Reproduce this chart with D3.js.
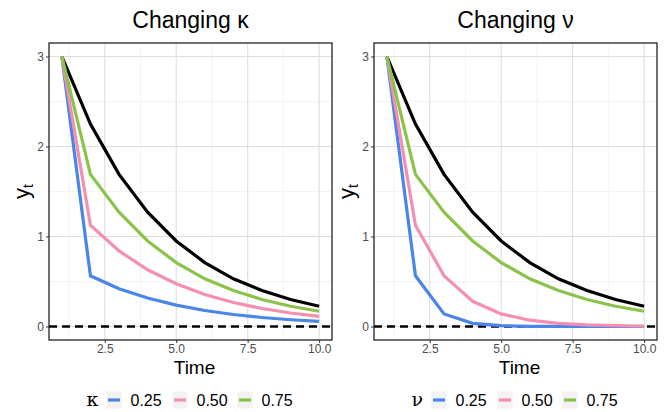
<!DOCTYPE html>
<html>
<head>
<meta charset="utf-8">
<script src="https://cdn.jsdelivr.net/npm/d3@7"></script>
<style>
  body { margin: 0; background: #fff; }
  svg { font-family: "Liberation Sans", Arial, sans-serif; }
</style>
</head>
<body>
<div id="chart"></div>
<script>
// time steps
const times = [1, 2, 3, 4, 5, 6, 7, 8, 9, 10];

// reference series (black), same in both panels
const baseline = [3, 2.25, 1.69, 1.27, 0.95, 0.71, 0.53, 0.40, 0.30, 0.225];

// left panel: changing kappa
const kappaLow  = [3, 0.563, 0.42, 0.316, 0.237, 0.178, 0.133, 0.10, 0.075, 0.056];
const kappaMid  = [3, 1.125, 0.84, 0.63, 0.475, 0.356, 0.267, 0.20, 0.15, 0.113];
const kappaHigh = [3, 1.69, 1.27, 0.95, 0.71, 0.53, 0.40, 0.30, 0.225, 0.169];

// right panel: changing nu
const nuLow  = [3, 0.563, 0.14, 0.035, 0.009, 0.002, 0.001, 0, 0, 0];
const nuMid  = [3, 1.125, 0.563, 0.28, 0.14, 0.07, 0.035, 0.018, 0.009, 0.004];
const nuHigh = [3, 1.69, 1.27, 0.95, 0.71, 0.53, 0.40, 0.30, 0.225, 0.169];

const levels = ["0.25", "0.50", "0.75"];
const colors = ["#4a86e8", "#f48fb1", "#8bc34a"];
const xTicks = [2.5, 5.0, 7.5, 10.0];
const yTicks = [0, 1, 2, 3];

const W = 667, H = 412;
const svg = d3.select("#chart").append("svg")
    .attr("width", W)
    .attr("height", H);

const panels = [
  { title: "Changing \u03ba", sym: "\u03ba", left: 49, right: 332, series: [kappaLow, kappaMid, kappaHigh] },
  { title: "Changing \u03bd", sym: "\u03bd", left: 374, right: 657, series: [nuLow, nuMid, nuHigh] }
];
const plotTop = 43, plotBottom = 340;

panels.forEach(p => {
  const x = d3.scaleLinear().domain([0.55, 10.45]).range([p.left, p.right]);
  const y = d3.scaleLinear().domain([-0.15, 3.15]).range([plotBottom, plotTop]);
  const g = svg.append("g");
  const mid = (p.left + p.right) / 2;

  // minor grid
  const xMinor = [1.25, 3.75, 6.25, 8.75];
  const yMinor = [0.5, 1.5, 2.5];
  g.selectAll(".xminor").data(xMinor).enter().append("line")
      .attr("x1", d => x(d)).attr("x2", d => x(d))
      .attr("y1", plotTop).attr("y2", plotBottom)
      .attr("stroke", "#ebebeb").attr("stroke-width", 0.6);
  g.selectAll(".yminor").data(yMinor).enter().append("line")
      .attr("x1", p.left).attr("x2", p.right)
      .attr("y1", d => y(d)).attr("y2", d => y(d))
      .attr("stroke", "#ebebeb").attr("stroke-width", 0.6);

  // major grid
  g.selectAll(".xmajor").data(xTicks).enter().append("line")
      .attr("x1", d => x(d)).attr("x2", d => x(d))
      .attr("y1", plotTop).attr("y2", plotBottom)
      .attr("stroke", "#dedede").attr("stroke-width", 1.1);
  g.selectAll(".ymajor").data(yTicks).enter().append("line")
      .attr("x1", p.left).attr("x2", p.right)
      .attr("y1", d => y(d)).attr("y2", d => y(d))
      .attr("stroke", "#dedede").attr("stroke-width", 1.1);

  // dashed zero line
  g.append("line")
      .attr("x1", p.left).attr("x2", p.right)
      .attr("y1", y(0)).attr("y2", y(0))
      .attr("stroke", "#000").attr("stroke-width", 2.5)
      .attr("stroke-dasharray", "8,5");

  const line = d3.line()
      .x((d, i) => x(times[i]))
      .y(d => y(d));

  g.append("path")
      .datum(baseline)
      .attr("fill", "none")
      .attr("stroke", "#000")
      .attr("stroke-width", 3.2)
      .attr("d", line);

  p.series.forEach((s, i) => {
    g.append("path")
        .datum(s)
        .attr("fill", "none")
        .attr("stroke", colors[i])
        .attr("stroke-width", 3.2)
        .attr("d", line);
  });

  // axes
  const xAxis = g.append("g")
      .attr("transform", "translate(0," + plotBottom + ")")
      .call(d3.axisBottom(x).tickValues(xTicks).tickFormat(d3.format(".1f")).tickSize(3).tickPadding(1));
  const yAxis = g.append("g")
      .attr("transform", "translate(" + p.left + ",0)")
      .call(d3.axisLeft(y).tickValues(yTicks).tickFormat(d3.format("d")).tickSize(3).tickPadding(2));
  [xAxis, yAxis].forEach(a => {
    a.select(".domain").remove();
    a.selectAll(".tick line").attr("stroke", "#333");
    a.selectAll(".tick text").attr("fill", "#4d4d4d").style("font-size", "12px");
  });

  // panel border
  g.append("rect")
      .attr("x", p.left).attr("y", plotTop)
      .attr("width", p.right - p.left).attr("height", plotBottom - plotTop)
      .attr("fill", "none").attr("stroke", "#222").attr("stroke-width", 1.3);

  // title
  g.append("text")
      .attr("x", mid).attr("y", 28)
      .attr("text-anchor", "middle")
      .style("font-size", "23px")
      .text(p.title);

  // x title
  g.append("text")
      .attr("x", mid + 4).attr("y", 374)
      .attr("text-anchor", "middle")
      .style("font-size", "19px")
      .text("Time");

  // y title
  const yl = g.append("text")
      .attr("transform", "translate(" + (p.left - 20) + "," + ((plotTop + plotBottom) / 2) + ") rotate(-90)")
      .attr("text-anchor", "middle")
      .style("font-size", "22px");
  yl.append("tspan").text("y");
  yl.append("tspan").attr("dy", 4).style("font-size", "14px").text("t");

  // legend
  const leg = g.append("g").attr("transform", "translate(" + (mid - 104) + ",400)");
  leg.append("text")
      .attr("x", 0).attr("y", 6)
      .style("font-family", "'DejaVu Serif', serif")
      .style("font-size", "19px")
      .text(p.sym);
  const keyX = [20, 86, 151];
  levels.forEach((lv, i) => {
    leg.append("rect")
        .attr("x", keyX[i]).attr("y", -8.5)
        .attr("width", 15).attr("height", 17)
        .attr("fill", "#f2f2f2");
    leg.append("line")
        .attr("x1", keyX[i] + 1.5).attr("x2", keyX[i] + 13.5)
        .attr("y1", 0).attr("y2", 0)
        .attr("stroke", colors[i]).attr("stroke-width", 3.2);
    leg.append("text")
        .attr("x", keyX[i] + 24).attr("y", 6)
        .style("font-size", "16px")
        .text(lv);
  });
});
</script>
</body>
</html>
